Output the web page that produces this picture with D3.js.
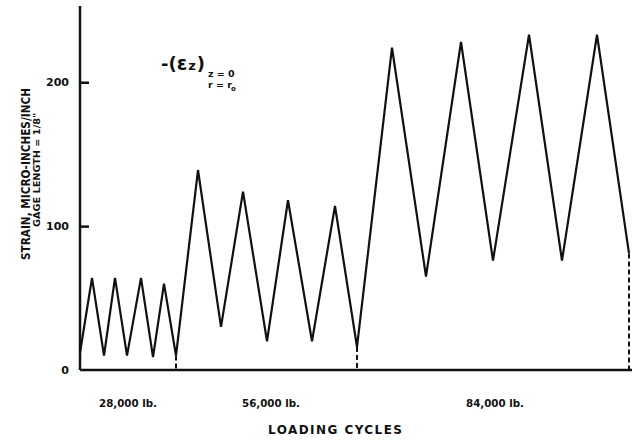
<!DOCTYPE html>
<html>
<head>
<meta charset="utf-8">
<script src="https://cdn.jsdelivr.net/npm/d3@7"></script>
<style>
body { margin: 0; background: #fff; }
text { font-family: "DejaVu Sans", "Liberation Sans", sans-serif; font-weight: bold; fill: #111; }
</style>
</head>
<body>
<svg width="634" height="440"></svg>
<script>
// loading position along the record (arbitrary units) and strain values
var xPos = [0, 12, 24, 35, 47, 61, 73, 84, 96,
  118, 141, 163, 187, 208, 232, 255, 277,
  312, 346, 381, 413, 449, 482, 517, 549];
var strain = [12, 64, 10, 64, 10, 64, 9, 60, 10,
  139, 30, 124, 20, 118, 20, 114, 16,
  224, 65, 228, 76, 233, 76, 233, 81];
// dashed drops to zero at the end of each load block
var dropX = [96, 277, 549];
var dropV = [10, 16, 81];
var yTicks = [0, 100, 200];
var loadLabels = ["28,000 lb.", "56,000 lb.", "84,000 lb."];
var loadLabelX = [48, 191, 415];

var svg = d3.select('svg');
var xs = d3.scaleLinear().domain([0, 552]).range([80, 632]);
var ys = d3.scaleLinear().domain([0, 253]).range([370, 6]);

// axes frame
svg.append('line').attr('x1', xs(0)).attr('x2', xs(0)).attr('y1', ys(0)).attr('y2', ys(253))
  .attr('stroke', '#111').attr('stroke-width', 2.5);
svg.append('line').attr('x1', xs(0)).attr('x2', xs(552)).attr('y1', ys(0)).attr('y2', ys(0))
  .attr('stroke', '#111').attr('stroke-width', 2.5);

var yAxis = svg.append('g')
  .attr('transform', 'translate(' + xs(0) + ',0)')
  .call(d3.axisRight(ys).tickValues(yTicks).tickSize(9).tickFormat(''));
yAxis.select('.domain').remove();
yAxis.selectAll('.tick line').attr('stroke', '#111').attr('stroke-width', 2.5);
yAxis.selectAll('.tick').filter(function(d) { return d === 0; }).select('line').remove();

svg.selectAll('.ylab').data(yTicks).enter().append('text')
  .attr('x', 69).attr('y', function(d) { return ys(d) + 4; })
  .attr('text-anchor', 'end').attr('font-size', 11)
  .text(function(d) { return d; });

// strain trace
var pts = xPos.map(function(x, i) { return [x, strain[i]]; });
svg.append('path').datum(pts)
  .attr('d', d3.line().x(function(d) { return xs(d[0]); }).y(function(d) { return ys(d[1]); }))
  .attr('fill', 'none').attr('stroke', '#111').attr('stroke-width', 2.2)
  .attr('stroke-linejoin', 'miter');

svg.selectAll('.drop').data(dropX).enter().append('line')
  .attr('x1', function(d) { return xs(d); }).attr('x2', function(d) { return xs(d); })
  .attr('y1', function(d, i) { return ys(dropV[i]); }).attr('y2', ys(0))
  .attr('stroke', '#111').attr('stroke-width', 2).attr('stroke-dasharray', '5,3');

// load labels
svg.selectAll('.load').data(loadLabels).enter().append('text')
  .attr('x', function(d, i) { return xs(loadLabelX[i]); }).attr('y', 407)
  .attr('text-anchor', 'middle').attr('font-size', 10.5)
  .attr('textLength', 58).attr('lengthAdjust', 'spacingAndGlyphs')
  .text(function(d) { return d; });

svg.append('text').attr('x', 335).attr('y', 434).attr('text-anchor', 'middle')
  .attr('font-size', 12).attr('textLength', 134).attr('lengthAdjust', 'spacing')
  .text('LOADING  CYCLES');

// y title
svg.append('text').attr('transform', 'translate(30,174) rotate(-90)')
  .attr('text-anchor', 'middle').attr('font-size', 11.5)
  .attr('textLength', 172).attr('lengthAdjust', 'spacingAndGlyphs')
  .text('STRAIN,  MICRO-INCHES/INCH');
svg.append('text').attr('transform', 'translate(40,170) rotate(-90)')
  .attr('text-anchor', 'middle').attr('font-size', 8.5)
  .attr('textLength', 114).attr('lengthAdjust', 'spacingAndGlyphs')
  .text('GAGE  LENGTH = 1/8"');

// annotation
var ann = svg.append('text').attr('x', 161).attr('y', 70).attr('font-weight', 'normal');
ann.append('tspan').attr('font-size', 18).text('-(');
ann.append('tspan').attr('font-size', 19).text('\u03B5');
ann.append('tspan').attr('font-size', 13).attr('font-weight', 'bold').attr('dx', 1).text('z');
ann.append('tspan').attr('font-size', 18).attr('dx', 1).text(')');
svg.append('text').attr('x', 208).attr('y', 77).attr('font-size', 9.5).text('z = 0');
svg.append('text').attr('x', 208).attr('y', 88).attr('font-size', 9.5).text('r = r');
svg.append('text').attr('x', 231).attr('y', 91).attr('font-size', 7).text('o');
</script>
</body>
</html>
